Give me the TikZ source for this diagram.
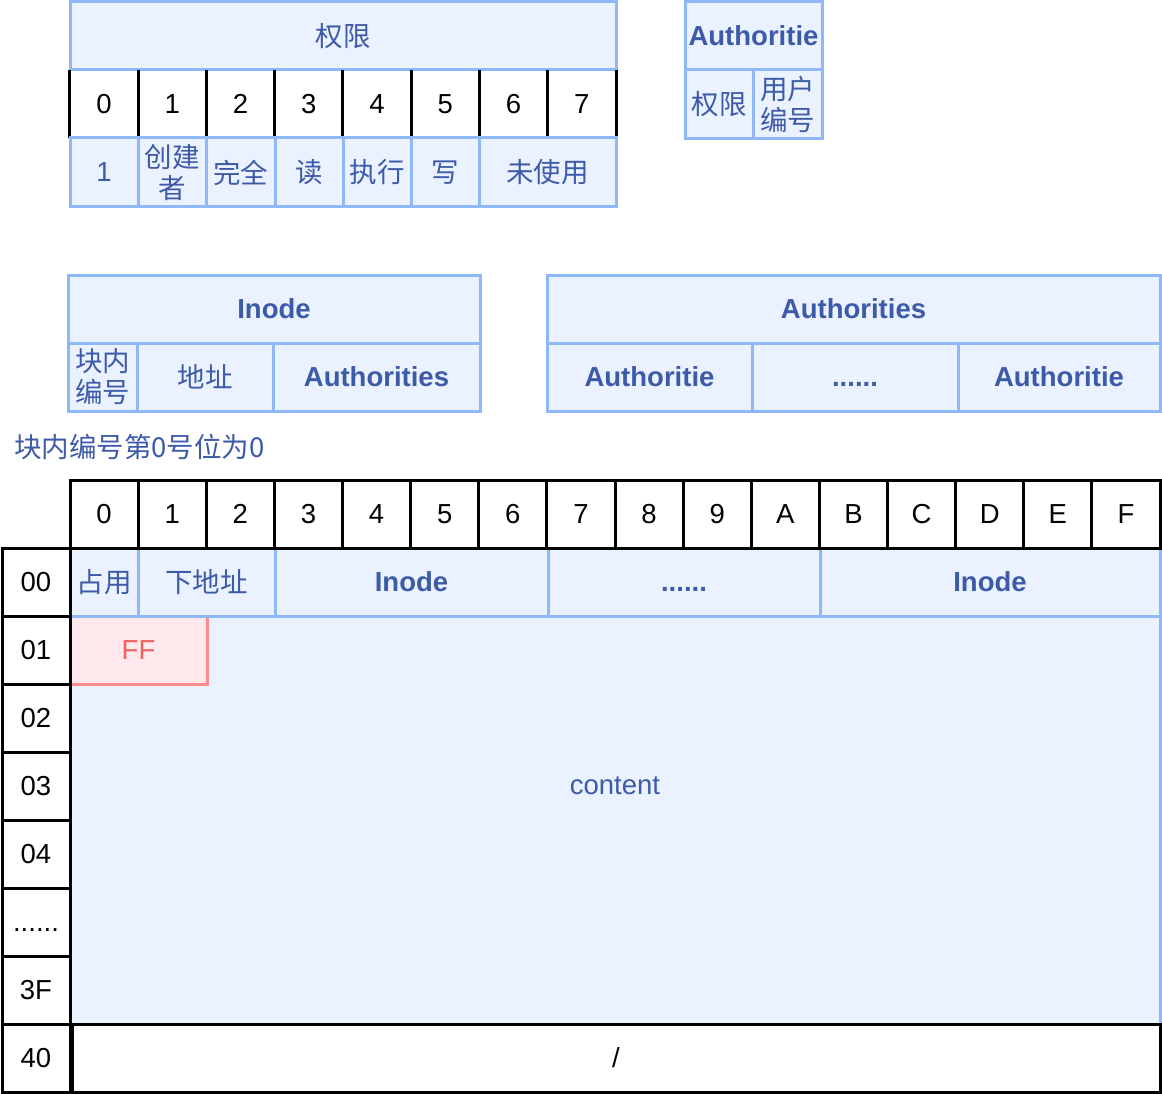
\documentclass[tikz,border=0pt]{standalone}
\usepackage{fontspec}
\setmainfont{Liberation Sans}
\newfontfamily\cjk{Noto Sans CJK SC}
\usetikzlibrary{positioning}
\definecolor{cellfill}{HTML}{EAF2FF}
\definecolor{celldraw}{HTML}{8EB8FA}
\definecolor{celltext}{HTML}{3D5AA8}
\definecolor{fffill}{HTML}{FFE8EC}
\definecolor{ffdraw}{HTML}{FF8C8C}
\definecolor{fftext}{HTML}{EE6262}
\newcommand{\rowdots}{\vphantom{0}......}
\tikzset{
  bcell/.style={draw=celldraw, fill=cellfill, line width=3pt, text=celltext,
    inner sep=0pt, align=center, font=\fontsize{27.5}{31}\selectfont},
  bbold/.style={bcell, font=\fontsize{27.5}{31}\selectfont\bfseries},
  kcell/.style={draw=black, fill=white, line width=3pt, inner sep=0pt,
    font=\fontsize{27.5}{31}\selectfont},
  dcell/.style={inner sep=0pt, font=\fontsize{27.5}{31}\selectfont},
  ffcell/.style={draw=ffdraw, fill=fffill, line width=3pt, text=fftext,
    inner sep=0pt, font=\fontsize{27.5}{31}\selectfont},
}
\begin{document}
\begin{tikzpicture}[x=1pt, y=-1pt]
\useasboundingbox (0,0) rectangle (1162,1094);

% permission bits
\node[bcell, minimum width=546, minimum height=68] (qxhead) at (343,36) {\cjk 权限};
\foreach \d in {0,...,7}
  \node[dcell, minimum width=68.25, minimum height=68] (qb\d) at ({104.125+68.25*\d},104) {\d};
\foreach \d in {0,...,7}
  \draw[line width=3pt] (qb\d.north west) -- (qb\d.south west);
\draw[line width=3pt] (qb7.north east) -- (qb7.south east);
\node[bcell, minimum width=68, minimum height=69] (qv0) at (104,172.5) {1};
\node[bcell, minimum width=68, minimum height=69] (qv1) at (172,172.5) {\cjk 创建\\\cjk 者};
\node[bcell, minimum width=69, minimum height=69] (qv2) at (240.5,172.5) {\cjk 完全};
\node[bcell, minimum width=68, minimum height=69] (qv3) at (309,172.5) {\cjk 读};
\node[bcell, minimum width=68, minimum height=69] (qv4) at (377,172.5) {\cjk 执行};
\node[bcell, minimum width=68, minimum height=69] (qv5) at (445,172.5) {\cjk 写};
\node[bcell, minimum width=137, minimum height=69] (qv6) at (547.5,172.5) {\cjk 未使用};

% one authoritie
\node[bbold, minimum width=137, minimum height=68] (authead) at (753.5,36) {Authoritie};
\node[bcell, minimum width=68, minimum height=69] (auqx) at (719,104.5) {\cjk 权限};
\node[bcell, minimum width=69, minimum height=69] (auid) at (787.5,104.5) {\cjk 用户\\\cjk 编号};

% inode
\node[bbold, minimum width=412, minimum height=68] (inhead) at (274,309) {Inode};
\node[bcell, minimum width=69, minimum height=68] (innum) at (102.5,377) {\cjk 块内\\\cjk 编号};
\node[bcell, minimum width=136, minimum height=68] (inaddr) at (205,377) {\cjk 地址};
\node[bbold, minimum width=207, minimum height=68] (inauth) at (376.5,377) {Authorities};

% authorities
\node[bbold, minimum width=613, minimum height=68] (ashead) at (853.5,309) {Authorities};
\node[bbold, minimum width=205, minimum height=68] (asfirst) at (649.5,377) {Authoritie};
\node[bbold, minimum width=206, minimum height=68] (asdots) at (855,377) {\rowdots};
\node[bbold, minimum width=202, minimum height=68] (aslast) at (1059,377) {Authoritie};

\node[dcell, text=celltext, anchor=west] (note) at (14,447) {\cjk 块内编号第0号位为0};

% block layout
\node[bcell, minimum width=1090, minimum height=476] (content) at (615,786) {content};
\node[ffcell, minimum width=137, minimum height=68] (ff) at (138.5,650) {FF};
\node[bcell, minimum width=68, minimum height=68] (used) at (104,582) {\cjk 占用};
\node[bcell, minimum width=137, minimum height=68] (next) at (206.5,582) {\cjk 下地址};
\node[bbold, minimum width=273, minimum height=68] (inode0) at (411.5,582) {Inode};
\node[bbold, minimum width=272, minimum height=68] (inodedots) at (684,582) {\rowdots};
\node[bbold, minimum width=340, minimum height=68] (inode1) at (990,582) {Inode};
\foreach \d [count=\i from 0] in {0,1,2,3,4,5,6,7,8,9,A,B,C,D,E,F}
  \node[kcell, minimum width=68.125, minimum height=68] (hd\i) at ({104.0625+68.125*\i},514) {\d};
\foreach \r [count=\i from 0] in {00,01,02,03,04,\rowdots,3F,40}
  \node[kcell, minimum width=68, minimum height=68] (rw\i) at (36,{582+68*\i}) {\r};
\node[kcell, minimum width=1088, minimum height=68] (last) at (616,1058) {/};
\end{tikzpicture}
\end{document}
